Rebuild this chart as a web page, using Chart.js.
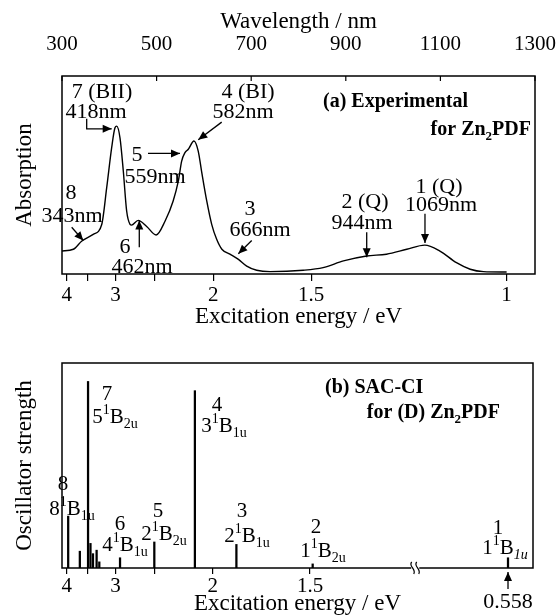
<!DOCTYPE html>
<html><head><meta charset="utf-8">
<script src="https://cdn.jsdelivr.net/npm/chart.js"></script>
<style>
html,body{margin:0;padding:0;background:#fff;}
#wrap{position:relative;width:557px;height:616px;overflow:hidden;}
canvas{position:absolute;left:0;}
</style></head><body>
<div id="wrap">
<canvas id="ca" width="557" height="340" style="top:0;width:557px;height:340px"></canvas>
<canvas id="cb" width="557" height="276" style="top:340px;width:557px;height:276px"></canvas>
</div>
<script>
// ---------------- DATA ----------------
// (a) experimental absorption spectrum
const expWavelengthNm = [299,324,342,366,384,394.5,405,412,415.6,422.6,429.6,436.7,443.8,447,461,479,499,518,535,546,553,560,567,579,588,595,606,616.5,627,638,655,673,690.5,711.6,740,810,852,895,944,986,1029,1067,1099,1134,1163,1191,1240];
const expAbsorption   = [0.116,0.125,0.167,0.20,0.25,0.436,0.638,0.739,0.747,0.688,0.52,0.318,0.251,0.247,0.271,0.24,0.197,0.268,0.369,0.47,0.57,0.613,0.63,0.672,0.621,0.52,0.369,0.251,0.175,0.125,0.10,0.074,0.04,0.019,0.012,0.019,0.032,0.066,0.091,0.10,0.125,0.146,0.116,0.057,0.024,0.012,0.010];
const wavelengthTicks = [300,500,700,900,1100,1300];
const energyTicksA = [4,3.5,3,2.5,2,1.5,1];
const energyTickLabelsA = ['4','','3','','2','1.5','1'];
const expPeakNums = ['8','7 (BII)','6','5','4 (BI)','3','2 (Q)','1 (Q)'];
const expPeakNm   = ['343nm','418nm','462nm','559nm','582nm','666nm','944nm','1069nm'];

// (b) SAC-CI stick spectrum
const sacEnergyEV = [3.96,3.67,3.49,3.44,3.39,3.32,3.27,2.93,2.50,2.13,1.85,1.49,0.558];
const sacStrength = [0.253,0.082,0.91,0.12,0.07,0.087,0.03,0.05,0.127,0.865,0.115,0.02,0.05];
const energyTicksB = [4,3.5,3,2.5,2,1.5];
const energyTickLabelsB = ['4','','3','','2','1.5'];
const sacStateNums = ['8','7','6','5','4','3','2','1'];
const sacStateSym  = ['8^1B_1u','5^1B_2u','4^1B_1u','2^1B_2u','3^1B_1u','2^1B_1u','1^1B_2u','1^1B_1u'];

// ---------------- LAYOUT (label anchors in axis units) ----------------
const expAnnotLayout = [
 {num:[319,.417],   lab:[321,.30],    arrow:[[320.5,.236],[345,.169]]},
 {num:[384.6,.927], lab:[371.9,.826], arrow:[[352.2,.784],[352.2,.733],[405.1,.733]]},
 {num:[433.2,.144], lab:[469.1,.043], arrow:[[463.4,.135],[463.4,.270]]},
 {num:[458.6,.609], lab:[496.6,.497], arrow:[[481.8,.609],[549.5,.609]]},
 {num:[693.2,.927], lab:[682.7,.826], arrow:[[637.6,.767],[588.1,.678]]},
 {num:[697.5,.336], lab:[718.6,.23],  arrow:[[701.1,.169],[672.8,.102]]},
 {num:[940.6,.371], lab:[934.2,.265], arrow:[[944.2,.211],[944.2,.085]]},
 {num:[1097,.447],  lab:[1101.3,.356],arrow:[[1067.4,.304],[1067.4,.156]]}
];
const sacLabelLayout = [
 {num:[302.1,.415], sym:[321.2,.293]},
 {num:[395.5,.854], sym:[412.5,.741]},
 {num:[423.1,.22],  sym:[433.8,.117]},
 {num:[503.8,.283], sym:[516.6,.171]},
 {num:[629.1,.80],  sym:[643.9,.698]},
 {num:[682.2,.283], sym:[692.8,.161]},
 {num:[839.3,.205], sym:[854.1,.088]},
 {num:[1225.7,.2],  sym:[1240.6,.102], italicSub:true}
];
const titleA = ['(a) Experimental', 'for Zn_2PDF'];
const titleAPos = [[851.8,.876,'left'],[1291.5,.735,'right']];
const titleB = ['(b) SAC-CI', 'for (D) Zn_2PDF'];
const titleBPos = [[858.4,.888,'left'],[1229.9,.766,'right']];

// axis break for panel (b): wavelength-linear axis, compressed beyond the break
const BREAK_NM = 1050, BREAK_K = 0.168;
function axisPos(eV){ const nm = 1240/eV; return nm <= BREAK_NM ? nm : BREAK_NM + (nm-BREAK_NM)*BREAK_K; }

const serif = "'Liberation Serif','Times New Roman',serif";
const LABEL_A = 22, LABEL_B = 21, BOLD = 20;

function drawRich(ctx, str, x, y, opt){
  const size = opt.size, bold = opt.bold ? 'bold ' : '';
  const small = Math.round(size*0.66);
  const segs=[]; let i=0, buf='';
  while(i<str.length){
    const c=str[i];
    if(c==='^'){ if(buf){segs.push({t:buf,k:'n'});buf='';} segs.push({t:str[i+1],k:'sup'}); i+=2; }
    else if(c==='_'){ if(buf){segs.push({t:buf,k:'n'});buf='';} let j=i+1,s=''; while(j<str.length && /[0-9a-z]/.test(str[j])){s+=str[j];j++;} segs.push({t:s,k:'sub'}); i=j; }
    else { buf+=c; i++; }
  }
  if(buf) segs.push({t:buf,k:'n'});
  const fontFor = k => ((k==='sub' && opt.italicSub)?'italic ':'') + bold + (k==='n'?size:small) + 'px ' + serif;
  let total=0;
  segs.forEach(s=>{ ctx.font=fontFor(s.k); s.w=ctx.measureText(s.t).width; total+=s.w; });
  let cx = opt.align==='left'? x : opt.align==='right'? x-total : x-total/2;
  const base = y + size*0.34;
  ctx.textAlign='left'; ctx.textBaseline='alphabetic'; ctx.fillStyle='#000';
  segs.forEach(s=>{ ctx.font=fontFor(s.k); const dy = s.k==='sup'? -size*0.42 : s.k==='sub'? size*0.24 : 0; ctx.fillText(s.t,cx,base+dy); cx+=s.w; });
}

function drawArrow(ctx, pts){
  ctx.save(); ctx.strokeStyle='#000'; ctx.fillStyle='#000'; ctx.lineWidth=1.3;
  ctx.beginPath(); ctx.moveTo(pts[0][0],pts[0][1]);
  for(let k=1;k<pts.length;k++) ctx.lineTo(pts[k][0],pts[k][1]);
  const [x2,y2]=pts[pts.length-1], [x1,y1]=pts[pts.length-2];
  const a=Math.atan2(y2-y1,x2-x1), L=9, W=4;
  ctx.stroke();
  ctx.beginPath(); ctx.moveTo(x2,y2);
  ctx.lineTo(x2-L*Math.cos(a)+W*Math.sin(a), y2-L*Math.sin(a)-W*Math.cos(a));
  ctx.lineTo(x2-L*Math.cos(a)-W*Math.sin(a), y2-L*Math.sin(a)+W*Math.cos(a));
  ctx.closePath(); ctx.fill(); ctx.restore();
}

function frame(chart){
  const a=chart.chartArea, ctx=chart.ctx;
  ctx.save(); ctx.strokeStyle='#000'; ctx.lineWidth=1.5;
  ctx.strokeRect(a.left,a.top,a.right-a.left,a.bottom-a.top); ctx.restore();
}

const panelAPlugin = {
  id:'panelA',
  afterDraw(chart){
    const ctx=chart.ctx, xs=chart.scales.x, ys=chart.scales.y, x2=chart.scales.x2, a=chart.chartArea;
    frame(chart);
    ctx.save(); ctx.strokeStyle='#000'; ctx.lineWidth=1.2;
    x2.ticks.forEach(t=>{ const px=x2.getPixelForValue(t.value); ctx.beginPath(); ctx.moveTo(px,a.top); ctx.lineTo(px,a.top+5); ctx.stroke(); });
    ctx.restore();
    const P = p => [xs.getPixelForValue(p[0]), ys.getPixelForValue(p[1])];
    expAnnotLayout.forEach((L,i)=>{
      const n=P(L.num), l=P(L.lab);
      drawRich(ctx, expPeakNums[i], n[0], n[1], {size:LABEL_A});
      drawRich(ctx, expPeakNm[i], l[0], l[1], {size:LABEL_A});
      drawArrow(ctx, L.arrow.map(P));
    });
    titleA.forEach((t,i)=>{ const p=P(titleAPos[i]); drawRich(ctx,t,p[0],p[1],{size:BOLD,bold:true,align:titleAPos[i][2]}); });
  }
};

const panelBPlugin = {
  id:'panelB',
  afterDraw(chart){
    const ctx=chart.ctx, xs=chart.scales.x, ys=chart.scales.y, a=chart.chartArea;
    frame(chart);
    // axis break mark
    const bx=xs.getPixelForValue(BREAK_NM), by=a.bottom;
    ctx.save(); ctx.fillStyle='#fff'; ctx.fillRect(bx-4,by-2,8,4);
    ctx.strokeStyle='#000'; ctx.lineWidth=1.2;
    [-2.5,2.5].forEach(dx=>{ ctx.beginPath(); ctx.moveTo(bx+dx-1,by-6); ctx.bezierCurveTo(bx+dx-5,by-2,bx+dx+4,by+1,bx+dx+1,by+6); ctx.stroke(); });
    ctx.restore();
    // arrow + value for the lowest state beyond the break
    const last = sacEnergyEV[sacEnergyEV.length-1];
    const lx = xs.getPixelForValue(axisPos(last));
    drawArrow(ctx, [[lx,a.bottom+21],[lx,a.bottom+4]]);
    drawRich(ctx, last.toFixed(3), lx, a.bottom+33, {size:LABEL_B+1});
    const P = p => [xs.getPixelForValue(p[0]), ys.getPixelForValue(p[1])];
    sacLabelLayout.forEach((L,i)=>{
      const n=P(L.num), s=P(L.sym);
      drawRich(ctx, sacStateNums[i], n[0], n[1], {size:LABEL_B});
      drawRich(ctx, sacStateSym[i], s[0], s[1], {size:LABEL_B, italicSub:!!L.italicSub});
    });
    titleB.forEach((t,i)=>{ const p=P(titleBPos[i]); drawRich(ctx,t,p[0],p[1],{size:BOLD,bold:true,align:titleBPos[i][2]}); });
  }
};

const tickFont = {family:serif, size:21};
const titleFont = {family:serif, size:23};
function fitH(h){ return s=>{ s.height=h; s.paddingLeft=0; s.paddingRight=0; }; }
function fitW(w){ return s=>{ s.width=w; s.paddingTop=0; s.paddingBottom=0; }; }

new Chart(document.getElementById('ca'), {
  type:'line',
  data:{datasets:[{
    data: expWavelengthNm.map((w,i)=>({x:w,y:expAbsorption[i]})),
    borderColor:'#000', borderWidth:1.4, pointRadius:0, fill:false,
    cubicInterpolationMode:'monotone', xAxisID:'x', yAxisID:'y'
  }]},
  options:{
    responsive:false, animation:false, devicePixelRatio:1,
    layout:{padding:{left:0,right:22,top:0,bottom:0}},
    plugins:{legend:{display:false}, tooltip:{enabled:false}},
    scales:{
      x:{type:'linear', position:'bottom', min:300, max:1300,
        afterBuildTicks:s=>{ s.ticks = energyTicksA.map(e=>({value:1240/e})); },
        ticks:{callback:(v,i)=>energyTickLabelsA[i], font:tickFont, color:'#000', padding:1.4, maxRotation:0, autoSkip:false},
        grid:{display:true, drawOnChartArea:false, drawTicks:true, tickLength:7, color:'#000', lineWidth:1.2},
        border:{display:false},
        title:{display:true, text:'Excitation energy / eV', font:titleFont, color:'#000', padding:{top:0,bottom:9.2}},
        afterFit:fitH(66)
      },
      x2:{type:'linear', position:'top', min:300, max:1300,
        afterBuildTicks:s=>{ s.ticks = wavelengthTicks.map(v=>({value:v})); },
        ticks:{callback:v=>String(v), font:tickFont, color:'#000', padding:19.4, maxRotation:0, autoSkip:false},
        grid:{display:false, drawTicks:false},
        border:{display:false},
        title:{display:true, text:'Wavelength / nm', font:titleFont, color:'#000', padding:{top:8.2,bottom:0}},
        afterFit:fitH(76)
      },
      y:{min:0, max:1, ticks:{display:false}, grid:{display:false}, border:{display:false},
        title:{display:true, text:'Absorption', font:titleFont, color:'#000', padding:{top:11.2,bottom:0}},
        afterFit:fitW(62)
      }
    }
  },
  plugins:[panelAPlugin]
});

new Chart(document.getElementById('cb'), {
  type:'bar',
  data:{datasets:[{
    data: sacEnergyEV.map((e,i)=>({x:axisPos(e), y:sacStrength[i]})),
    backgroundColor:'#000', borderWidth:0, barThickness:1.6
  }]},
  options:{
    responsive:false, animation:false, devicePixelRatio:1,
    layout:{padding:{left:0,right:24,top:23,bottom:0}},
    plugins:{legend:{display:false}, tooltip:{enabled:false}},
    scales:{
      x:{type:'linear', position:'bottom', min:300, max:1300, offset:false,
        afterBuildTicks:s=>{ s.ticks = energyTicksB.map(e=>({value:axisPos(e)})); },
        ticks:{callback:(v,i)=>energyTickLabelsB[i], font:tickFont, color:'#000', padding:-0.6, maxRotation:0, autoSkip:false},
        grid:{display:true, offset:false, drawOnChartArea:false, drawTicks:true, tickLength:6, color:'#000', lineWidth:1.2},
        border:{display:false},
        title:{display:true, text:'Excitation energy / eV', font:titleFont, color:'#000', padding:{top:0,bottom:-1.8}},
        afterFit:fitH(48)
      },
      y:{min:0, max:1, ticks:{display:false}, grid:{display:false}, border:{display:false},
        title:{display:true, text:'Oscillator strength', font:titleFont, color:'#000', padding:{top:11.2,bottom:0}},
        afterFit:fitW(62)
      }
    }
  },
  plugins:[panelBPlugin]
});
</script>
</body></html>
